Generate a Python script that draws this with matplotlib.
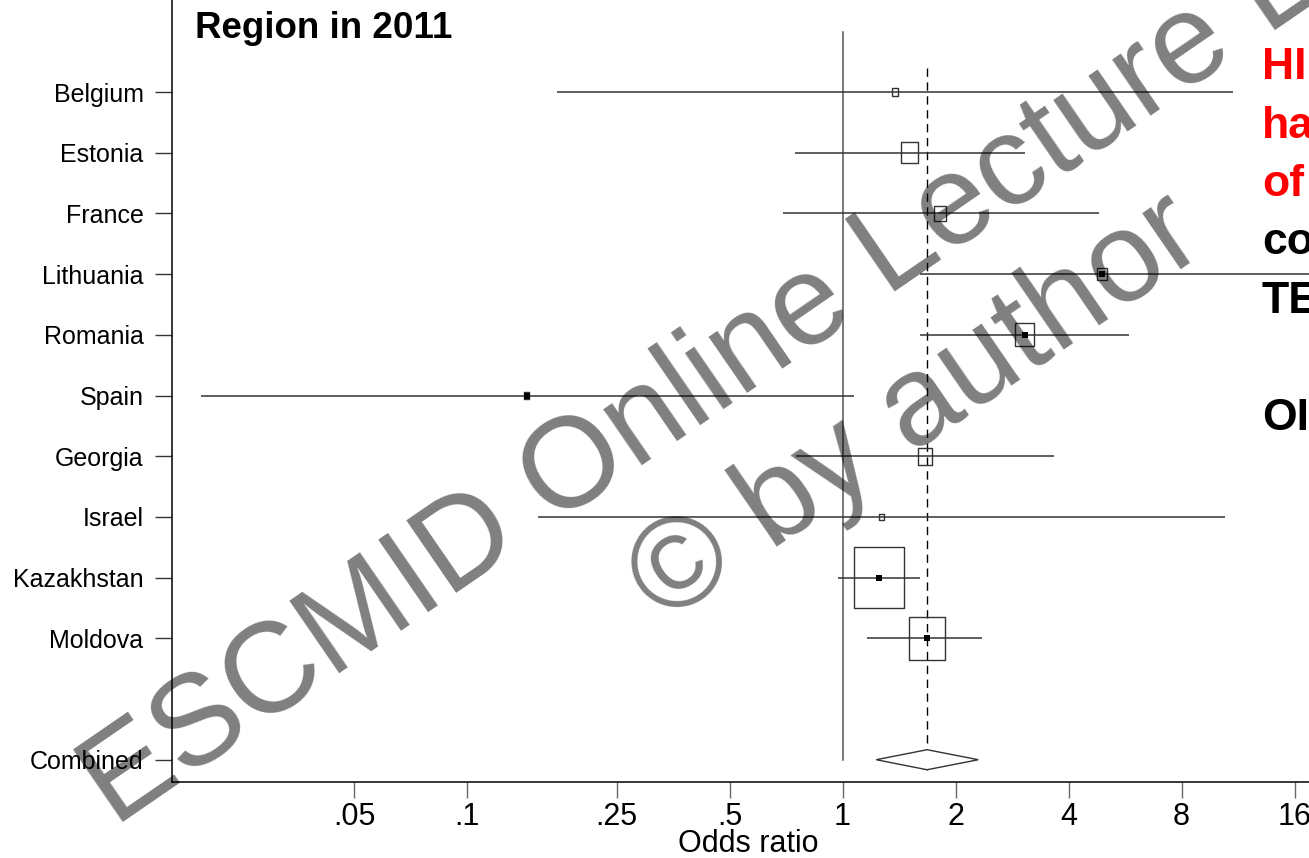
import matplotlib
matplotlib.use('Agg')
import matplotlib.pyplot as plt
from matplotlib.path import Path
import numpy as np

# ---------------- data ----------------
studies = ["Belgium", "Estonia", "France", "Lithuania", "Romania", "Spain",
           "Georgia", "Israel", "Kazakhstan", "Moldova"]
odds_ratio = [1.38, 1.51, 1.82, 4.91, 3.06, 0.144, 1.66, 1.27, 1.25, 1.68]
ci_low = [0.174, 0.747, 0.694, 1.61, 1.61, 0.0195, 0.75, 0.154, 0.973, 1.16]
ci_high = [10.97, 3.06, 4.82, 18.0, 5.80, 1.07, 3.66, 10.45, 1.61, 2.35]
weight_pct = [0.7, 5.9, 3.0, 2.0, 7.3, 0.5, 4.0, 0.5, 51.0, 25.0]
point_visible = [False, False, False, True, True, True, False, False, True, True]

combined_label = "Combined"
combined_or = 1.68
combined_low = 1.23
combined_high = 2.30

xtick_values = [0.05, 0.1, 0.25, 0.5, 1, 2, 4, 8, 16]
xtick_labels = [".05", ".1", ".25", ".5", "1", "2", "4", "8", "16"]

title_text = "Region in 2011"
side_lines = ["HI", "ha", "of", "co", "TE", "", "OI"]
side_colors = ["#ff0000", "#ff0000", "#ff0000", "black", "black", "black", "black"]

# ---------------- style ----------------
plt.rcParams['font.family'] = ['Liberation Sans', 'DejaVu Sans']
W, H = 1309, 858
fig = plt.figure(figsize=(W / 100, H / 100), dpi=100)
fig.patch.set_facecolor('white')

ax = fig.add_axes([172 / W, 76 / H, (1324 - 172) / W, 782 / H])
ax.set_xscale('log')
ax.set_xlim(2 ** ((172 - 842.5) / 113), 2 ** ((1324 - 842.5) / 113))
ax.set_ylim(12.367, -0.516)

rows = np.arange(1, len(studies) + 1)
comb_row = len(studies) + 2

line_col = '#333333'
# null line and combined estimate line
ax.plot([1, 1], [0.012, comb_row], color='#555555', lw=1.1, zorder=2)
ax.plot([combined_or, combined_or], [0.6, comb_row + 0.17], color='black',
        lw=1.0, ls=(0, (6, 4)), zorder=2)

# confidence intervals
for r, lo, hi in zip(rows, ci_low, ci_high):
    ax.plot([lo, hi], [r, r], color=line_col, lw=1.1, zorder=3, solid_capstyle='butt')

# weight boxes (slightly taller than wide, as in the reference)
box_path = Path([(-0.41, -0.5), (0.41, -0.5), (0.41, 0.5), (-0.41, 0.5), (-0.41, -0.5)],
                [Path.MOVETO, Path.LINETO, Path.LINETO, Path.LINETO, Path.CLOSEPOLY])
box_h_pts = [8.6 * np.sqrt(w) * 0.72 for w in weight_pct]
ax.scatter(odds_ratio, rows, s=[h ** 2 for h in box_h_pts], marker=box_path,
           facecolors='none', edgecolors=line_col, linewidths=1.0, zorder=4)

# point estimates
pv_x = [o for o, v in zip(odds_ratio, point_visible) if v]
pv_y = [r for r, v in zip(rows, point_visible) if v]
ax.scatter(pv_x, pv_y, s=14, marker='s', color='black', zorder=5, linewidths=0)

# combined diamond
dh = 0.165
ax.fill([combined_low, combined_or, combined_high, combined_or],
        [comb_row, comb_row - dh, comb_row, comb_row + dh],
        facecolor='white', edgecolor=line_col, lw=1.0, zorder=4)

# axes styling
for s in ['top', 'right']:
    ax.spines[s].set_visible(False)
ax.spines['left'].set_linewidth(1.1)
ax.spines['bottom'].set_linewidth(1.1)

ax.set_xticks(xtick_values)
ax.set_xticklabels(xtick_labels)
ax.xaxis.set_minor_locator(matplotlib.ticker.NullLocator())
ax.tick_params(axis='x', direction='out', length=11.5, width=1.0, color='#666666',
               labelsize=22, pad=3)
ax.set_yticks(list(rows) + [comb_row])
ax.set_yticklabels(studies + [combined_label])
ax.tick_params(axis='y', direction='out', length=12, width=1.0, color='#333333',
               labelsize=18, pad=8.5)
ax.set_xlabel("Odds ratio", fontsize=22, labelpad=-2)

# title
fig.text(195 / W, 1 - 38 / H, title_text, fontsize=26.5, fontweight='bold',
         ha='left', va='baseline')

# right-hand slide text (cut off by the image edge in the reference)
for k, (txt, col) in enumerate(zip(side_lines, side_colors)):
    fig.text(1262 / W, 1 - (79 + 58.5 * k) / H, txt, fontsize=32, fontweight='bold',
             color=col, ha='left', va='baseline')

# watermark
wm_kw = dict(rotation=34.5, rotation_mode='anchor', ha='left', va='baseline',
             fontsize=92, color='black', alpha=0.5, zorder=10)
fig.text(115 / W, 1 - 828 / H, "ESCMID Online Lecture Library", **wm_kw)
fig.text(664 / W, 1 - 625 / H, "\u00a9 by author", **wm_kw)

fig.savefig('out.png', dpi=100)
